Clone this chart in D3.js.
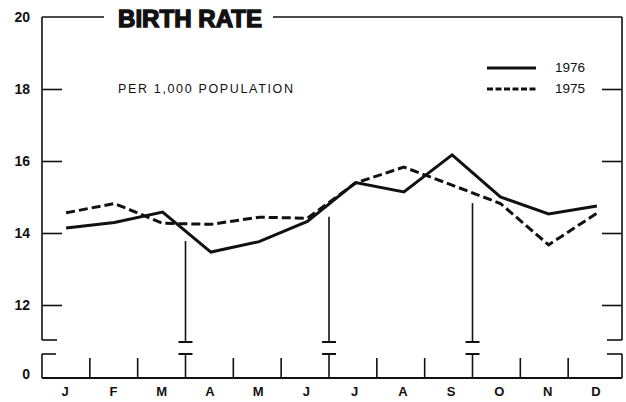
<!DOCTYPE html>
<html>
<head>
<meta charset="utf-8">
<script src="https://cdn.jsdelivr.net/npm/d3@7"></script>
<style>
  html, body { margin: 0; padding: 0; background: #fff; }
  svg { display: block; }
  text { font-family: "Liberation Sans", Arial, Helvetica, sans-serif; fill: #111; }
</style>
</head>
<body>
<svg id="chart" width="626" height="402"></svg>
<script>
// ---- data ----
const monthKeys = ["Jan","Feb","Mar","Apr","May","Jun","Jul","Aug","Sep","Oct","Nov","Dec"];
const monthLabels = ["J","F","M","A","M","J","J","A","S","O","N","D"];
const rate1976 = [14.14, 14.29, 14.58, 13.47, 13.76, 14.32, 15.40, 15.14, 16.17, 15.00, 14.53, 14.75];
const rate1975 = [14.56, 14.82, 14.27, 14.24, 14.44, 14.41, 15.39, 15.83, 15.33, 14.82, 13.67, 14.55];
const yTicks = [12, 14, 16, 18, 20];
const quarterStarts = ["Apr", "Jul", "Oct"];
const quarterMarkTop = [13.78, 14.45, 14.83];
const seriesNames = ["1976", "1975"];
const titleText = "BIRTH RATE";
const subtitleText = "PER 1,000 POPULATION";

// ---- layout ----
const svg = d3.select("#chart");
const left = 42, right = 622;
const ink = "#111";

const x = d3.scaleBand().domain(monthKeys).range([left, 621]);
const xDiv = d3.scaleBand().domain(monthKeys).range([left, 616]);
const y = d3.scaleLinear().domain([12, 20]).range([305, 17]);
const upperBottom = 340;
const lowerTop = 354;
const yLow = d3.scaleLinear().domain([0, 1]).range([378, 354]);
const baseY = yLow(0);
const cx = k => x(k) + x.bandwidth() / 2;

// ---- frame ----
const frame = svg.append("g").attr("stroke", ink).attr("fill", "none").attr("stroke-width", 1.6);
frame.append("line").attr("x1", left).attr("x2", 104).attr("y1", y(20)).attr("y2", y(20));
frame.append("line").attr("x1", 273).attr("x2", right).attr("y1", y(20)).attr("y2", y(20));
frame.append("line").attr("x1", left).attr("x2", left).attr("y1", y(20)).attr("y2", upperBottom);
frame.append("line").attr("x1", right).attr("x2", right).attr("y1", y(20)).attr("y2", upperBottom);
frame.append("line").attr("x1", left).attr("x2", left + 15).attr("y1", upperBottom).attr("y2", upperBottom);
frame.append("line").attr("x1", right - 15).attr("x2", right).attr("y1", upperBottom).attr("y2", upperBottom);
frame.append("line").attr("x1", left).attr("x2", left + 14).attr("y1", lowerTop).attr("y2", lowerTop);
frame.append("line").attr("x1", right - 15).attr("x2", right).attr("y1", lowerTop).attr("y2", lowerTop);
frame.append("line").attr("x1", left).attr("x2", left).attr("y1", lowerTop).attr("y2", baseY);
frame.append("line").attr("x1", right).attr("x2", right).attr("y1", lowerTop).attr("y2", baseY);
frame.append("line").attr("x1", left).attr("x2", right).attr("y1", baseY).attr("y2", baseY).attr("stroke-width", 2);

// ---- y axes ----
const yAxisL = svg.append("g").attr("transform", `translate(${left},0)`)
  .call(d3.axisLeft(y).tickValues(yTicks).tickSize(-20).tickPadding(12).tickFormat(d3.format("d")));
yAxisL.select(".domain").remove();
yAxisL.selectAll(".tick line").attr("stroke", ink).attr("stroke-width", 1.6)
  .filter(d => d === 20).remove();
yAxisL.selectAll(".tick text").attr("font-size", 14).attr("font-weight", "bold")
  .attr("font-family", "'Liberation Sans', Arial, sans-serif").attr("fill", ink);

const yAxisR = svg.append("g").attr("transform", `translate(${right},0)`)
  .call(d3.axisRight(y).tickValues(yTicks.filter(v => v < 20)).tickSize(-20).tickFormat(""));
yAxisR.select(".domain").remove();
yAxisR.selectAll(".tick line").attr("stroke", ink).attr("stroke-width", 1.6);

const yAxisLow = svg.append("g").attr("transform", `translate(${left},-4)`)
  .call(d3.axisLeft(yLow).tickValues([0]).tickSize(0).tickPadding(12).tickFormat(d3.format("d")));
yAxisLow.select(".domain").remove();
yAxisLow.selectAll(".tick text").attr("font-size", 14).attr("font-weight", "bold")
  .attr("font-family", "'Liberation Sans', Arial, sans-serif").attr("fill", ink);

// ---- month dividers ----
const divs = svg.append("g").attr("stroke", ink).attr("stroke-width", 1.6);
monthKeys.slice(1).forEach(k => {
  const dx = xDiv(k);
  const qi = quarterStarts.indexOf(k);
  if (qi >= 0) {
    divs.append("line").attr("x1", dx).attr("x2", dx).attr("y1", y(quarterMarkTop[qi])).attr("y2", upperBottom + 2);
    divs.append("line").attr("x1", dx - 7).attr("x2", dx + 7).attr("y1", upperBottom + 2).attr("y2", upperBottom + 2).attr("stroke-width", 2);
    divs.append("line").attr("x1", dx - 7).attr("x2", dx + 7).attr("y1", lowerTop).attr("y2", lowerTop).attr("stroke-width", 2);
    divs.append("line").attr("x1", dx).attr("x2", dx).attr("y1", lowerTop).attr("y2", baseY);
  } else {
    divs.append("line").attr("x1", dx).attr("x2", dx).attr("y1", lowerTop + 4).attr("y2", baseY);
  }
});

// ---- x labels ----
const xAxis = svg.append("g").attr("transform", `translate(-1,${baseY})`)
  .call(d3.axisBottom(x).tickSize(0).tickPadding(9).tickFormat((d, i) => monthLabels[i]));
xAxis.select(".domain").remove();
xAxis.selectAll(".tick text").attr("font-size", 13).attr("font-weight", "bold")
  .attr("font-family", "'Liberation Sans', Arial, sans-serif").attr("fill", ink);

// ---- lines ----
const line = d3.line().x((d, i) => cx(monthKeys[i])).y(d => y(d));
svg.append("path").datum(rate1975).attr("d", line).attr("fill", "none")
  .attr("stroke", ink).attr("stroke-width", 3).attr("stroke-dasharray", "9,4");
svg.append("path").datum(rate1976).attr("d", line).attr("fill", "none")
  .attr("stroke", ink).attr("stroke-width", 3).attr("stroke-linejoin", "miter");

// ---- title ----
svg.append("text").attr("x", 118).attr("y", 27).text(titleText)
  .attr("font-size", 23).attr("font-weight", "bold")
  .attr("stroke", ink).attr("stroke-width", 1.3)
  .attr("textLength", 144).attr("lengthAdjust", "spacingAndGlyphs");
svg.append("text").attr("x", 118).attr("y", 93).text(subtitleText)
  .attr("font-size", 12.5)
  .attr("textLength", 175).attr("lengthAdjust", "spacing");

// ---- legend ----
const legend = svg.append("g");
[0, 1].forEach(i => {
  const ly = 68 + i * 21;
  legend.append("line").attr("x1", 487).attr("x2", 536).attr("y1", ly).attr("y2", ly)
    .attr("stroke", ink).attr("stroke-width", 3)
    .attr("stroke-dasharray", i === 1 ? "6,2.5" : null);
  legend.append("text").attr("x", 555).attr("y", ly + 4).text(seriesNames[i])
    .attr("font-size", 13.5);
});
</script>
</body>
</html>
